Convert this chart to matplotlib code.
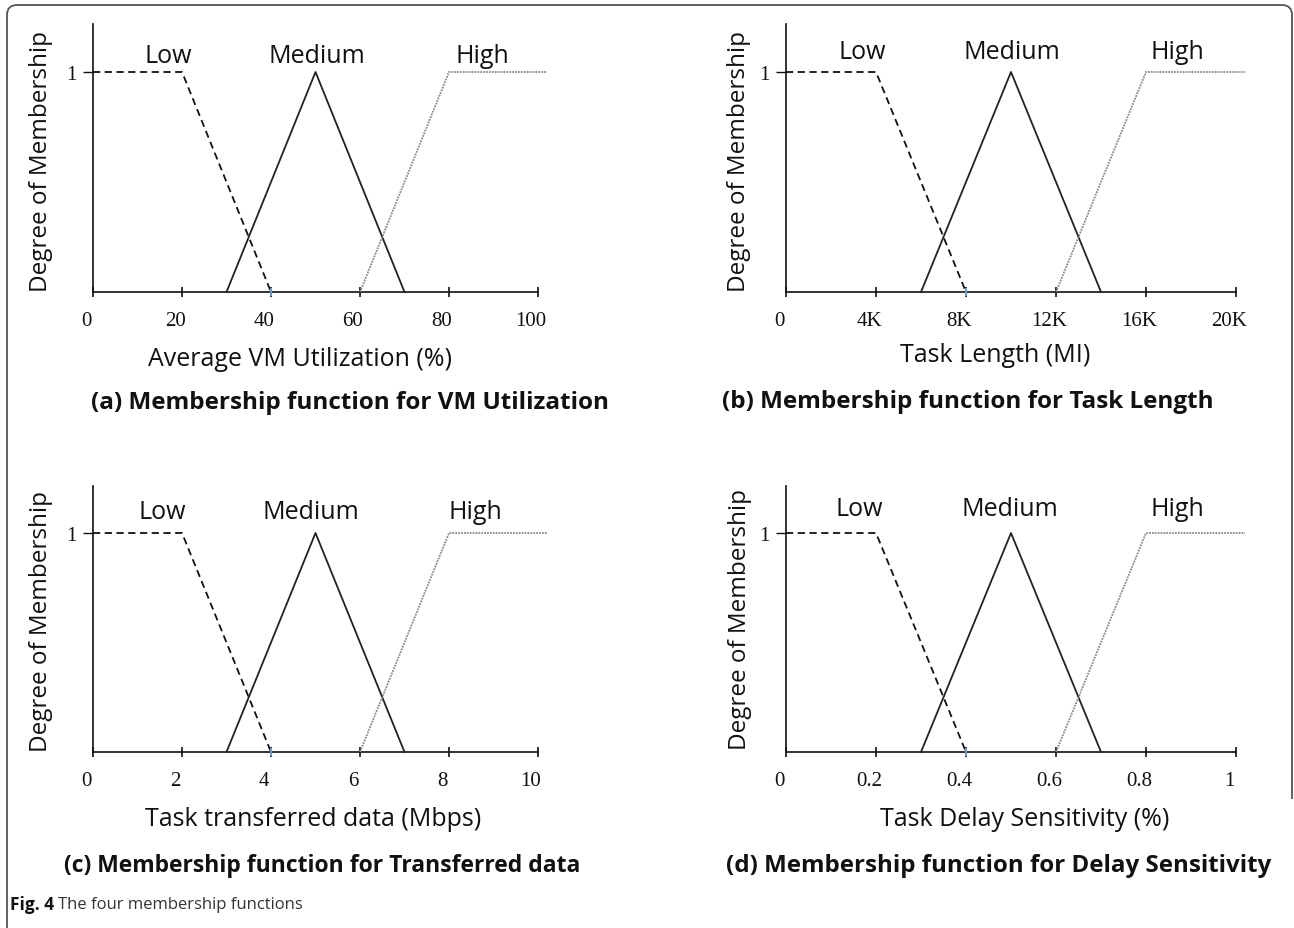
import matplotlib
matplotlib.use('Agg')
import matplotlib.pyplot as plt
from matplotlib.path import Path
from matplotlib.patches import PathPatch
from matplotlib.transforms import ScaledTranslation

W, H, DPI = 1294, 929, 100

# ---------------- data ----------------
categories = ['Low', 'Medium', 'High']

vm_low_x = [0, 20, 40]
vm_med_x = [30, 50, 70]
vm_high_x = [60, 80, 102]

len_low_x = [0, 4000, 8000]
len_med_x = [6000, 10000, 14000]
len_high_x = [12000, 16000, 20400]

data_low_x = [0, 2, 4]
data_med_x = [3, 5, 7]
data_high_x = [6, 8, 10.2]

delay_low_x = [0, 0.2, 0.4]
delay_med_x = [0.3, 0.5, 0.7]
delay_high_x = [0.6, 0.8, 1.02]

low_y = [1, 1, 0]
med_y = [0, 1, 0]
high_y = [0, 1, 1]

vm_ticks = [0, 20, 40, 60, 80, 100]
vm_ticklabels = ['0', '20', '40', '60', '80', '100']
len_ticks = [0, 4000, 8000, 12000, 16000, 20000]
len_ticklabels = ['0', '4K', '8K', '12K', '16K', '20K']
data_ticks = [0, 2, 4, 6, 8, 10]
data_ticklabels = ['0', '2', '4', '6', '8', '10']
delay_ticks = [0, 0.2, 0.4, 0.6, 0.8, 1]
delay_ticklabels = ['0', '0.2', '0.4', '0.6', '0.8', '1']

xlabels = ['Average VM Utilization (%)', 'Task Length (MI)',
           'Task transferred data (Mbps)', 'Task Delay Sensitivity (%)']
captions = ['(a) Membership function for VM Utilization',
            '(b) Membership function for Task Length',
            '(c) Membership function for Transferred data',
            '(d) Membership function for Delay Sensitivity']
ylabel = 'Degree of Membership'
fig_caption_bold = 'Fig. 4'
fig_caption_rest = 'The four membership functions'

# ---------------- layout (pixels) ----------------
# left, right(x at last tick), bottom (x-axis), top (end of y-axis)
rects = [(93, 538, 293, 25), (786, 1236, 293, 25),
         (93, 538, 753, 487), (786, 1236, 753, 487)]
one_y = [73, 73, 534, 534]
label_pos = [  # (x positions for Low/Medium/High, y)
    ([16.9, 50.3, 87.6], 1.075),
    ([3380, 10040, 17400], 1.095),
    ([1.55, 4.9, 8.6], 1.096),
    ([0.163, 0.498, 0.869], 1.11),
]
ylabel_pos = [(41, 161), (739, 161), (41, 621), (740, 620)]
xlabel_pos = [(300, 360), (995, 355), (313, 820), (1025, 820)]
caption_pos = [(350, 403), (968, 402), (322, 866), (999, 866)]
caption_size = [17.5, 17.5, 16.5, 17.4]

series = [
    (vm_low_x, vm_med_x, vm_high_x, vm_ticks, vm_ticklabels),
    (len_low_x, len_med_x, len_high_x, len_ticks, len_ticklabels),
    (data_low_x, data_med_x, data_high_x, data_ticks, data_ticklabels),
    (delay_low_x, delay_med_x, delay_high_x, delay_ticks, delay_ticklabels),
]

SANS = ['Open Sans', 'DejaVu Sans']
SERIF = ['Liberation Serif', 'DejaVu Serif']

fig = plt.figure(figsize=(W / DPI, H / DPI), dpi=DPI)
fig.patch.set_facecolor('white')

# border
bg = fig.add_axes([0, 0, 1, 1], zorder=-5)
bg.set_xlim(0, W)
bg.set_ylim(H, 0)
bg.axis('off')
r = 10
verts = [(7, H), (7, 6 + r), (7, 6), (7 + r, 6), (1292 - r, 6), (1292, 6), (1292, 6 + r), (1292, 800)]
codes = [Path.MOVETO, Path.LINETO, Path.CURVE3, Path.CURVE3, Path.LINETO, Path.CURVE3, Path.CURVE3, Path.LINETO]
bg.add_patch(PathPatch(Path(verts, codes), fill=False, edgecolor='#555555', lw=1.3))

for i, (lx, mx, hx, ticks, tlabels) in enumerate(series):
    l, rgt, b, t = rects[i]
    ax = fig.add_axes([l / W, 1 - b / H, (rgt - l) / W, (b - t) / H])
    ytop = (b - t) / (b - one_y[i])
    ax.set_xlim(ticks[0], ticks[-1])
    ax.set_ylim(0, ytop)
    ax.patch.set_alpha(0)

    ax.plot(lx, low_y, color='#111111', lw=1.3, ls=(0, (4, 2.5)), clip_on=False, zorder=3)
    ax.plot(mx, med_y, color='#222222', lw=1.3, ls='-', clip_on=False, zorder=3)
    ax.plot(hx, high_y, color='#8a8a8a', lw=1.3, ls=(0, (1, 0.6)), clip_on=False, zorder=3)
    ax.plot([lx[-1]], [0], marker='|', color='#6fa8dc', ms=6, mew=1.3, clip_on=False, zorder=4)

    for sp in ['top', 'right']:
        ax.spines[sp].set_visible(False)
    for sp in ['left', 'bottom']:
        ax.spines[sp].set_linewidth(1.2)
        ax.spines[sp].set_color('#111111')

    ax.set_xticks(ticks)
    ax.set_xticklabels(tlabels, fontfamily=SERIF, fontsize=15)
    ax.set_yticks([1])
    ax.set_yticklabels(['1'], fontfamily=SERIF, fontsize=15)
    ax.tick_params(axis='x', direction='inout', length=7, width=1.2, pad=10, colors='#111111')
    ax.tick_params(axis='y', direction='out', length=7, width=1.0, pad=5, colors='#111111')
    for lab in ax.get_xticklabels():
        lab.set_transform(lab.get_transform() + ScaledTranslation(-7 / DPI, 0, fig.dpi_scale_trans))

    xs, yy = label_pos[i]
    for name, xv in zip(categories, xs):
        ax.text(xv, yy, name, ha='center', va='center', fontsize=18,
                fontfamily=SANS, color='#111111')

    yx, yyp = ylabel_pos[i]
    fig.text(yx / W, 1 - yyp / H, ylabel, rotation=90, ha='center', va='center',
             fontsize=17.5, fontfamily=SANS, color='#111111')
    xx, xy = xlabel_pos[i]
    fig.text(xx / W, 1 - xy / H, xlabels[i], ha='center', va='center',
             fontsize=18, fontfamily=SANS, color='#111111')
    cx, cy = caption_pos[i]
    fig.text(cx / W, 1 - cy / H, captions[i], ha='center', va='center',
             fontsize=caption_size[i], fontfamily=SANS, fontweight='bold', color='#111111')

t1 = fig.text(10 / W, 1 - 905 / H, fig_caption_bold, ha='left', va='center',
              fontsize=12.5, fontweight='bold', fontfamily=SANS, color='#111111')
fig.canvas.draw()
bb = t1.get_window_extent(renderer=fig.canvas.get_renderer())
fig.text((bb.x1 + 4) / W, 1 - 905 / H, fig_caption_rest, ha='left', va='center',
         fontsize=12, fontfamily=SANS, color='#333333')

fig.savefig('out.png', dpi=DPI, facecolor='white')
